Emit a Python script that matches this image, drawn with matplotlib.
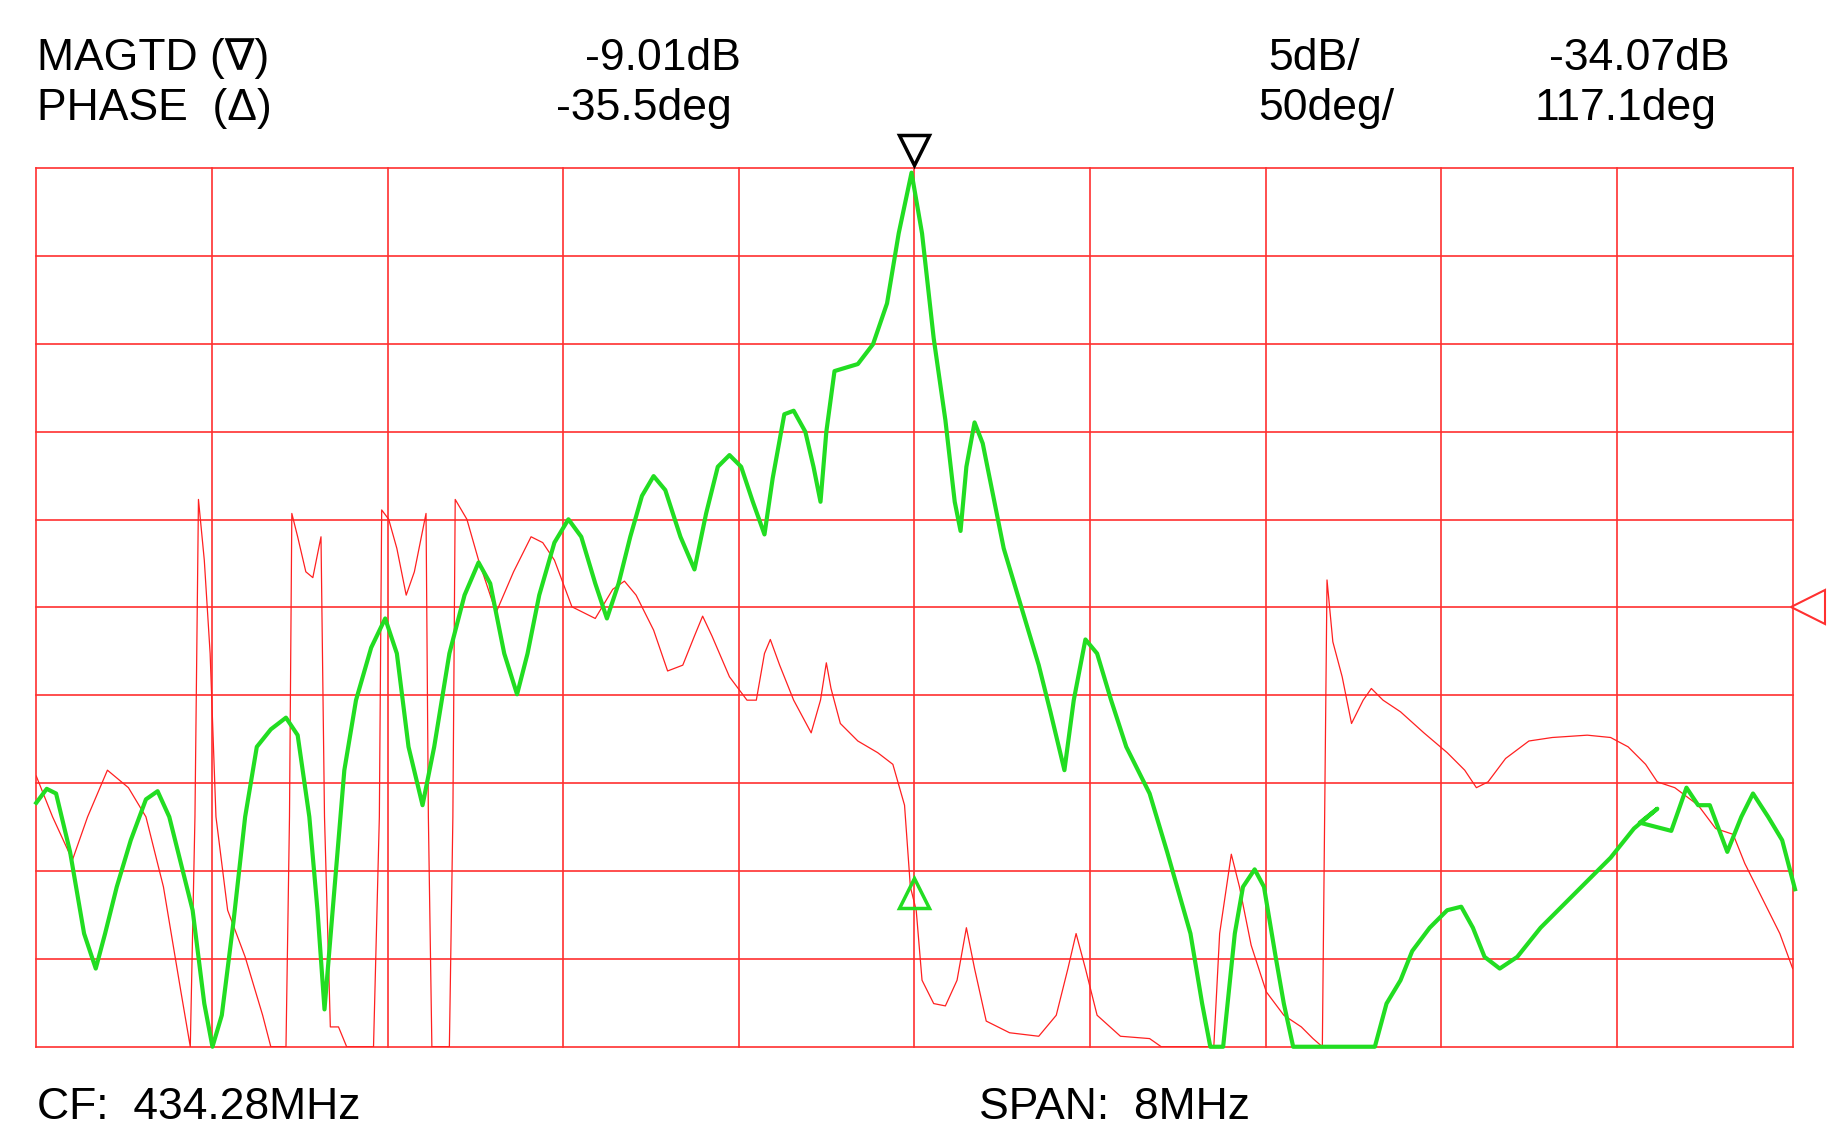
import numpy as np
import matplotlib
matplotlib.use("Agg")
import matplotlib.pyplot as plt

plt.rcParams['font.family'] = ['Liberation Sans', 'DejaVu Sans']

# Frequency axis: CF 434.28 MHz, span 8 MHz
CF, SPAN = 434.28, 8.0
# Magnitude trace (read as sample index position 0..1505 across span, level in divisions 0..10)
mag_pos = [31,40,48,60,72,82,90,100,112,125,135,145,155,165,175,182,190,200,210,220,232,245,255,265,272,278,285,295,305,318,330,340,350,362,372,385,398,410,420,432,443,452,462,475,487,498,510,520,530,540,550,560,570,583,595,605,615,625,635,645,655,662,672,680,690,697,703,708,715,725,735,748,760,770,781,790,800,810,818,823,828,835,842,850,860,875,890,900,912,920,930,940,952,965,985,1000,1020,1030,1037,1048,1058,1065,1075,1083,1093,1100,1108,1130,1178,1188,1200,1210,1225,1240,1252,1262,1272,1285,1300,1320,1340,1360,1380,1400,1420,1405,1432,1445,1455,1465,1480,1492,1502,1515,1527,1538]
mag_lvl = [688,676,680,730,800,830,800,760,720,685,678,700,740,780,860,897,870,790,700,640,625,615,630,700,780,865,780,660,600,555,530,560,640,690,640,560,510,482,500,560,595,560,510,465,445,460,500,530,500,460,425,408,420,460,488,440,400,390,400,430,458,410,355,352,370,400,430,370,318,315,312,295,260,200,148,200,290,360,430,455,400,362,380,420,470,520,570,610,660,600,548,560,600,640,680,730,800,860,897,897,800,760,745,760,820,860,897,897,897,860,840,815,795,780,777,795,820,830,820,795,775,755,735,710,693,705,712,675,690,690,730,700,680,700,720,762]
# Phase trace
ph_pos = [31,45,62,75,92,110,125,140,155,163,167,170,175,180,185,195,210,225,232,245,248,250,255,262,268,273,275,278,283,290,297,320,325,327,333,340,348,355,363,365,367,370,385,388,390,400,410,425,440,455,465,475,490,510,525,535,545,560,572,585,595,602,610,625,640,648,655,660,668,680,695,703,708,712,720,735,752,765,775,780,785,790,800,810,820,828,835,845,865,890,905,915,922,930,940,960,985,995,1040,1045,1055,1062,1072,1085,1100,1115,1125,1133,1135,1137,1142,1150,1158,1163,1168,1175,1185,1200,1220,1240,1255,1265,1275,1290,1310,1330,1360,1380,1395,1410,1420,1435,1455,1470,1485,1495,1510,1525,1536]
ph_lvl = [665,700,737,700,660,675,700,760,850,897,700,428,480,560,700,780,820,870,897,897,700,440,460,490,495,470,460,700,880,880,897,897,700,437,445,470,510,490,450,440,700,897,897,700,428,445,480,525,490,460,465,480,520,530,505,498,510,540,575,570,545,528,545,580,600,600,560,548,570,600,628,600,568,590,620,635,645,655,690,760,780,840,860,862,840,795,830,875,885,888,870,830,800,830,870,888,890,897,897,800,732,760,810,850,870,880,890,897,700,497,550,580,620,610,600,590,600,610,628,645,660,675,670,650,635,632,630,632,640,655,670,675,690,710,715,740,770,800,830]

def fx(p): return CF - SPAN/2 + (np.array(p) - 31) / 1505.0 * SPAN
def fy(v): return (897 - np.array(v)) / 75.3

fig = plt.figure(figsize=(18.3, 11.46), dpi=100)
ax = fig.add_axes([0.0198, 0.0866, 0.9598, 0.7668])
ax.set_xlim(CF - SPAN/2, CF + SPAN/2)
ax.set_ylim(0, 10)
for i in range(11):
    ax.axvline(CF - SPAN/2 + i*SPAN/10, color='#ff3030', lw=1.2, clip_on=False)
    ax.axhline(i, color='#ff3030', lw=1.2, clip_on=False)
for s in ax.spines.values():
    s.set_visible(False)
ax.set_xticks([]); ax.set_yticks([])
ax.plot(fx(ph_pos), fy(ph_lvl), color='#ff2020', lw=0.9)
ax.plot(fx(mag_pos), np.clip(fy(mag_lvl), 0, 10), color='#22dd22', lw=3, clip_on=False)
ax.plot([CF], [10.2], marker='v', ms=22, mfc='none', mec='black', mew=2.5, clip_on=False)
ax.plot([CF], [1.75], marker='^', ms=22, mfc='none', mec='#22dd22', mew=2.5, clip_on=False)
ax.plot([CF + SPAN/2 + 0.07], [5.0], marker='<', ms=24, mfc='none', mec='#ff3030', mew=1.5, clip_on=False)

fs = 32
t = dict(fontsize=fs, va='center', transform=fig.transFigure)
fig.text(0.020, 0.949, 'MAGTD (\u2207)', ha='left', **t)
fig.text(0.020, 0.905, 'PHASE  (\u0394)', ha='left', **t)
fig.text(0.405, 0.949, '-9.01dB', ha='right', **t)
fig.text(0.400, 0.905, '-35.5deg', ha='right', **t)
fig.text(0.743, 0.949, '5dB/', ha='right', **t)
fig.text(0.762, 0.905, '50deg/', ha='right', **t)
fig.text(0.945, 0.949, '-34.07dB', ha='right', **t)
fig.text(0.938, 0.905, '117.1deg', ha='right', **t)
fig.text(0.020, 0.034, 'CF:  434.28MHz', ha='left', **t)
fig.text(0.535, 0.034, 'SPAN:  8MHz', ha='left', **t)
fig.savefig('out.png', dpi=100)
